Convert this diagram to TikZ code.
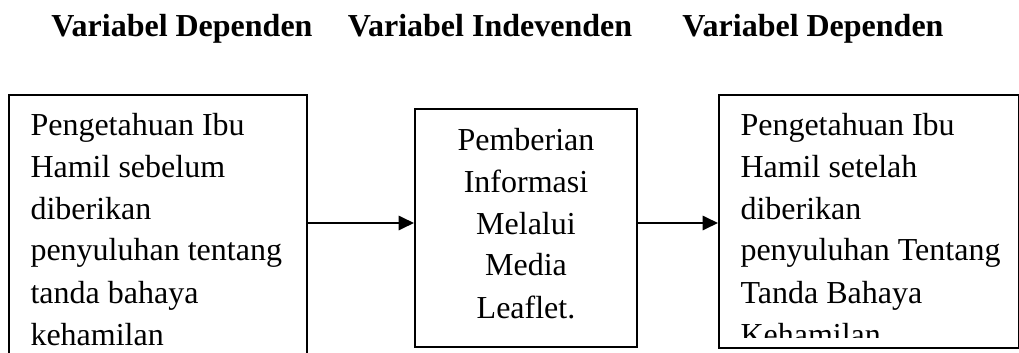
\documentclass[tikz,border=0pt]{standalone}
\usepackage{fontspec}
\setmainfont{Liberation Serif}
\usetikzlibrary{arrows.meta,positioning}

\begin{document}
\begin{tikzpicture}[x=0.375pt, y=-0.375pt,
  frame/.style={draw, line width=0.75pt, inner sep=0pt, anchor=north west},
  boxtext/.style={anchor=base west, inner sep=0pt, text width=101pt, align=flush left, font=\fontsize{12}{15.75}\selectfont},
  midtext/.style={anchor=base, inner sep=0pt, text width=80pt, align=flush center, font=\fontsize{12}{15.75}\selectfont},
  title/.style={anchor=base, inner sep=0pt, font=\bfseries\fontsize{12}{14}\selectfont},
  arr/.style={-{Triangle[length=5.8pt,width=5.4pt]}, line width=0.75pt}]
\useasboundingbox (0,0) rectangle (1019,353);
\clip (0,0) rectangle (1019,353);

% Titles
\node[title] (t1) at (182,36) {Variabel Dependen};
\node[title] (t2) at (490,36) {Variabel Indevenden};
\node[title] (t3) at (813,36) {Variabel Dependen};

% Boxes
\node[frame, minimum width=111.75pt, minimum height=112pt] (lbox) at (8,94) {};
\node[boxtext] (ltext) at (30,135) {Pengetahuan Ibu\\Hamil sebelum\\diberikan\\penyuluhan tentang\\tanda bahaya\\kehamilan};

\node[frame, anchor=center, minimum width=83.25pt, minimum height=89.25pt] (mbox) at (526,228) {};
\node[midtext] (mtext) at (526,150) {Pemberian\\Informasi\\Melalui\\Media\\Leaflet.};

\node[frame, minimum width=112.5pt, minimum height=94.875pt] (rbox) at (718,94) {};
\begin{scope}
\clip (718,94) rectangle (1018,337);
\node[boxtext] (rtext) at (740,135) {Pengetahuan Ibu\\Hamil setelah\\diberikan\\penyuluhan Tentang\\Tanda Bahaya\\Kehamilan};
\end{scope}

% Arrows
\coordinate (ay) at (0,223);
\draw[arr] (lbox.east |- ay) -- (mbox.west |- ay);
\draw[arr] (mbox.east |- ay) -- (rbox.west |- ay);
\end{tikzpicture}
\end{document}
